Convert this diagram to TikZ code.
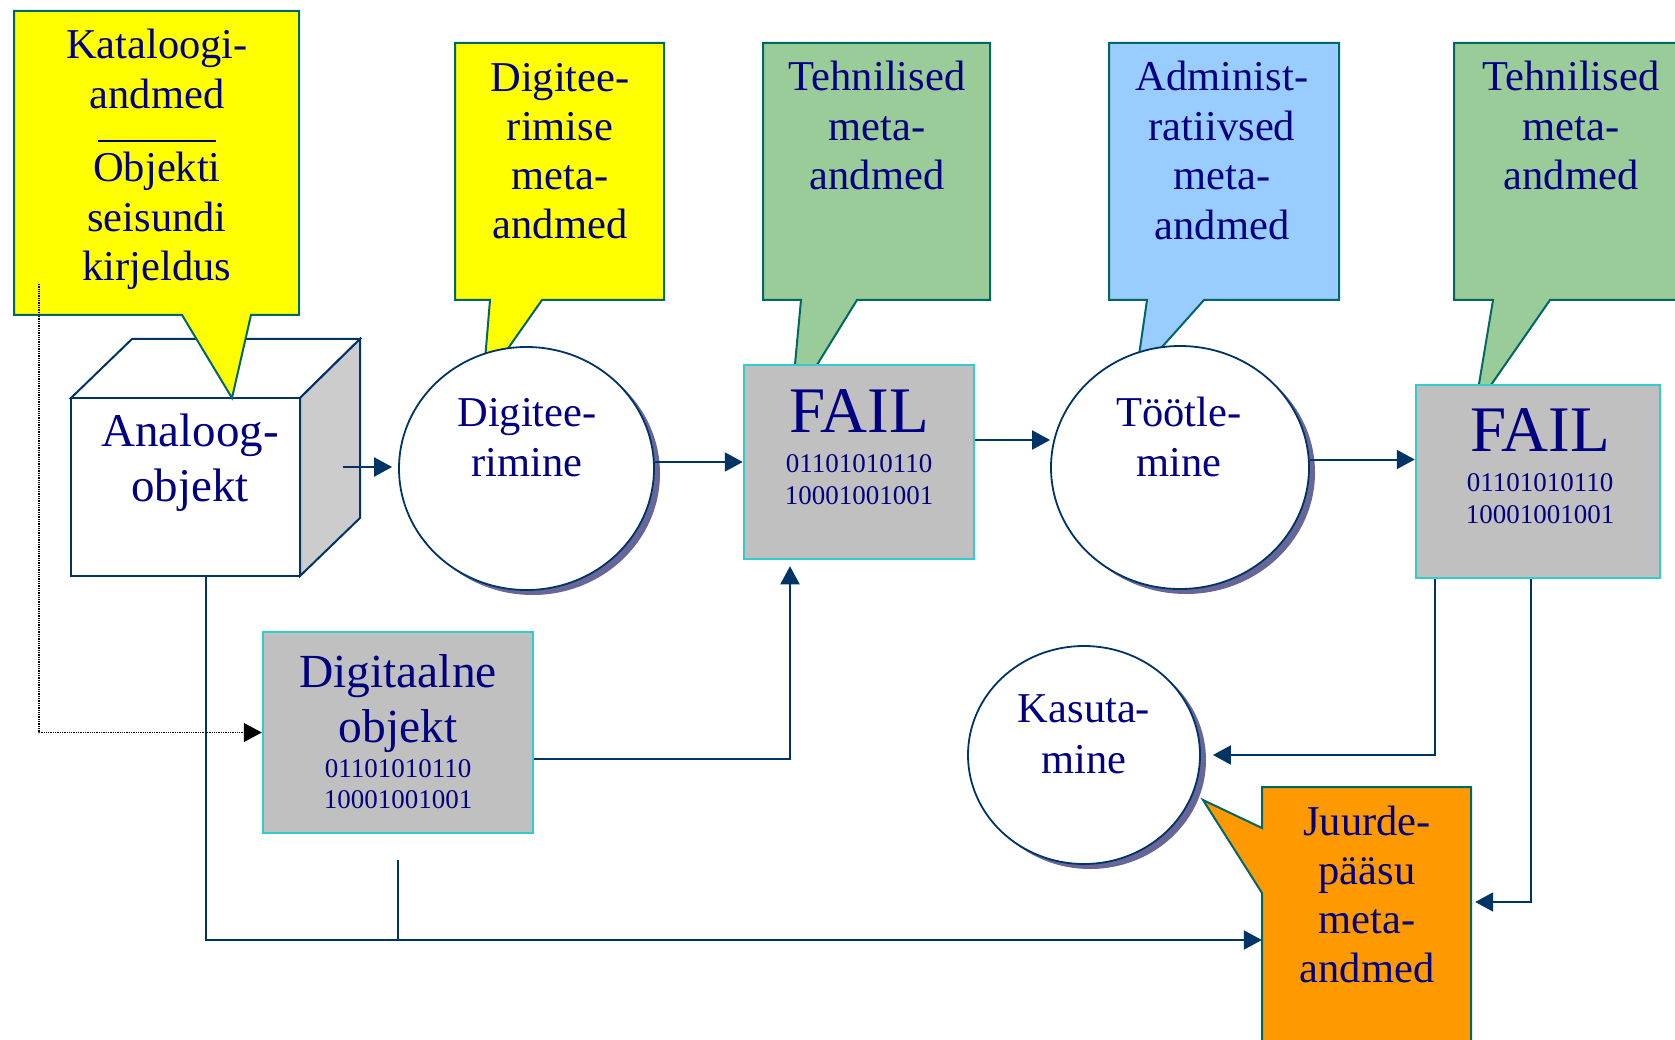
\documentclass[tikz,border=0pt]{standalone}
\usepackage{fontspec}
\setmainfont{Liberation Serif}
\usetikzlibrary{arrows.meta,shapes.geometric,shadows}
\definecolor{txt}{HTML}{000080}
\definecolor{lc}{HTML}{003366}
\definecolor{cb}{HTML}{006666}
\definecolor{yel}{HTML}{FFFF00}
\definecolor{grn}{HTML}{99CC99}
\definecolor{blu}{HTML}{99CCFF}
\definecolor{org}{HTML}{FF9900}
\definecolor{gry}{HTML}{C0C0C0}
\definecolor{cyn}{HTML}{33CCCC}
\definecolor{side}{HTML}{CCCCCC}
\definecolor{shd}{HTML}{666699}
\newcommand\tlines[6]{\foreach \mytxt [count=\i] in {#5}{\node[btxt,#6] (#1\i) at (#2,{#3+#4*(\i-1)}) {\mytxt};}}
\begin{document}
\begin{tikzpicture}[x=1pt,y=-1pt,
  btxt/.style={anchor=base, inner sep=0pt, text=txt},
  ct/.style={font=\fontsize{42.5}{50}\selectfont},
  et/.style={font=\fontsize{42.5}{50}\selectfont},
  bt/.style={font=\fontsize{47}{55}\selectfont},
  dt/.style={font=\fontsize{47.5}{55}\selectfont},
  nt/.style={font=\fontsize{27}{30}\selectfont},
  ft/.style={font=\fontsize{65}{70}\selectfont},
  callout/.style={draw=cb, line width=2pt, line join=miter},
  box/.style={rectangle, draw=cyn, fill=gry, line width=2.5pt, inner sep=0pt},
  ell/.style={ellipse, draw=lc, fill=white, line width=1.8pt, inner sep=0pt,
    drop shadow={shadow xshift=6pt, shadow yshift=-5pt, fill=shd, opacity=1}},
  cubeface/.style={draw=lc, line width=2pt, line join=miter},
  conn/.style={draw=lc, line width=2pt},
  arr/.style={conn, -{Triangle[length=18pt,width=19pt]}},
  dotarr/.style={draw=black, line width=1.3pt, densely dotted, -{Triangle[length=18pt,width=19pt]}}]
\useasboundingbox (0,0) rectangle (1675,1040);
\clip (0,0) rectangle (1675,1040);
% callouts behind shapes
\path[callout, fill=yel] (455,43) -- (664,43) -- (664,300) -- (542,300) -- (483,384) -- (490,300) -- (455,300) -- cycle;
\path[callout, fill=grn] (763,43) -- (990,43) -- (990,300) -- (857,300) -- (791,407) -- (801,300) -- (763,300) -- cycle;
\path[callout, fill=blu] (1109,43) -- (1339,43) -- (1339,300) -- (1204,300) -- (1136,376) -- (1147,300) -- (1109,300) -- cycle;
\path[callout, fill=grn] (1454,43) -- (1700,43) -- (1700,300) -- (1550,300) -- (1475,408) -- (1493,300) -- (1454,300) -- cycle;
\tlines{tb}{560}{92}{49}{Digitee-,rimise,meta-,andmed}{ct}
\tlines{tc}{877}{91}{49.5}{Tehnilised,meta-,andmed}{ct}
\tlines{td}{1222}{91}{49.5}{Administ-,ratiivsed,meta-,andmed}{ct}
\tlines{te}{1571}{91}{49.5}{Tehnilised,meta-,andmed}{ct}
% main shapes
\node[ell, minimum width=255pt, minimum height=243pt] (c1) at (526.5,468.5) {};
\node[ell, minimum width=258pt, minimum height=243pt] (c2) at (1180,467.5) {};
\node[ell, minimum width=232pt, minimum height=218pt] (k) at (1084,755) {};
\node[box, minimum width=230pt, minimum height=194pt] (f1) at (859,462) {};
\node[box, minimum width=244pt, minimum height=193pt] (f2) at (1538,481.5) {};
\node[box, minimum width=270pt, minimum height=201pt] (d1) at (398,732.5) {};
% cube
\path[cubeface, fill=white] (71,398) -- (132,339) -- (360,339) -- (300,398) -- cycle;
\path[cubeface, fill=side] (300,398) -- (360,339) -- (360,518) -- (300,576) -- cycle;
\node[rectangle, draw=lc, fill=white, line width=2pt, minimum width=229pt, minimum height=178pt, inner sep=0pt] (cube) at (185.5,487) {};
% callout A over the cube
\path[callout, fill=yel] (14,11) -- (299,11) -- (299,315) -- (251,315) -- (232,398) -- (182,315) -- (14,315) -- cycle;
\tlines{ta}{157}{59}{50}{Kataloogi-,andmed}{ct}
\draw[txt, line width=1.2pt] (98,141) -- (216,141);
\tlines{tf}{157}{182}{49.5}{Objekti,seisundi,kirjeldus}{ct}
% orange callout
\node[minimum width=209pt, minimum height=306pt, inner sep=0pt] (j) at (1366.5,940) {};
\path[callout, fill=org] (1262,787) -- (1471,787) -- (1471,1093) -- (1262,1093) -- (1262,893) -- (1203,800) -- (1262,828) -- cycle;
\tlines{tj}{1367}{835}{49.3}{Juurde-,pääsu,meta-,andmed}{ct}
% texts in shapes
\tlines{ua}{527}{426}{50}{Digitee-,rimine}{et}
\tlines{ub}{1179}{426}{50}{Töötle-,mine}{et}
\tlines{uk}{1084}{722}{51}{Kasuta-,mine}{et}
\tlines{uc}{190}{446}{55}{Analoog-,objekt}{bt}
\node[btxt, ft] (ff1) at (859,432.5) {FAIL};
\tlines{fa}{859}{472.5}{32}{01101010110,10001001001}{nt}
\node[btxt, ft] (ff2) at (1540,451.5) {FAIL};
\tlines{fb}{1540}{491}{32}{01101010110,10001001001}{nt}
\tlines{dg}{398}{687}{55}{Digitaalne,objekt}{dt}
\tlines{dn}{398}{777}{31}{01101010110,10001001001}{nt}
% connectors
\coordinate (cs) at (343,467);
\draw[arr, shorten >=6pt] (cs) -- (cs -| c1.west);
\draw[arr] (c1.east |- f1.west) -- (f1.west);
\coordinate (p3) at ([yshift=22pt]f1.east);
\draw[arr] (p3) -- (p3 -| c2.west);
\coordinate (p4) at ([yshift=8pt]c2.east);
\draw[arr] (p4) -- (p4 -| f2.west);
\coordinate (p5) at ([yshift=-26.5pt]d1.east);
\draw[arr, shorten >=6pt] (p5) -| ([xshift=-69pt]f1.south);
\draw[arr] ([xshift=20.5pt]cube.south) |- (j.west);
\draw[conn] ([yshift=-26pt]d1.south) -- (d1.south |- j.west);
\coordinate (ds) at (39,284);
\draw[dotarr] (ds) |- (d1.west);
\draw[arr] ([xshift=-103pt]f2.south) |- ([xshift=12pt]k.east);
\draw[arr] ([xshift=-7pt]f2.south) |- ([xshift=4pt,yshift=38pt]j.east);
\end{tikzpicture}
\end{document}
